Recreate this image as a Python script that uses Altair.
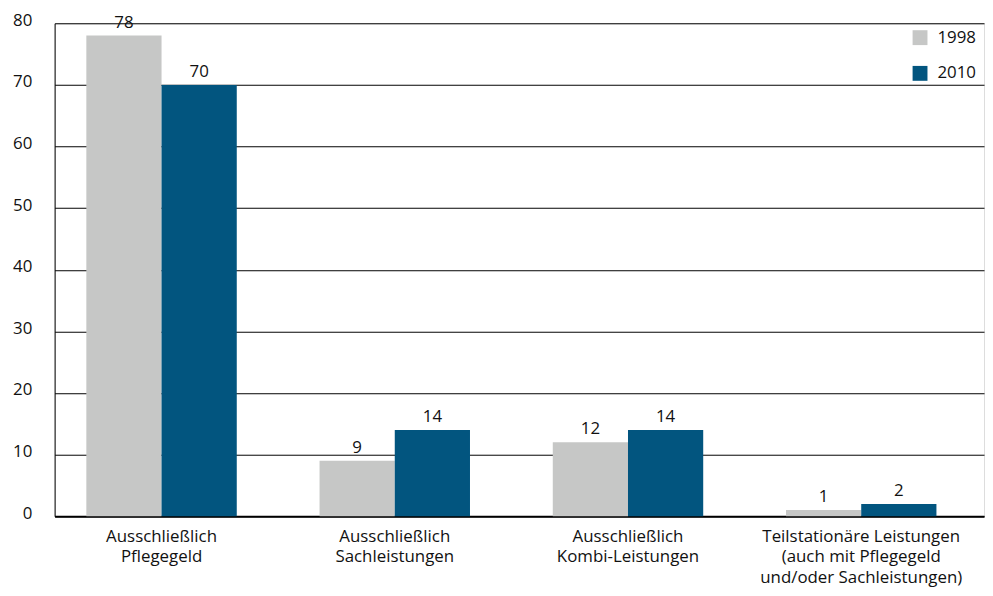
import altair as alt
import pandas as pd

categories = [
    "Ausschließlich|Pflegegeld",
    "Ausschließlich|Sachleistungen",
    "Ausschließlich|Kombi-Leistungen",
    "Teilstationäre Leistungen|(auch mit Pflegegeld|und/oder Sachleistungen)",
]
years = ["1998", "2010"]
values_1998 = [78, 9, 12, 1]
values_2010 = [70, 14, 14, 2]
colors = ["#c6c7c6", "#02557f"]

rows = []
for c, v in zip(categories, values_1998):
    rows.append({"cat": c, "year": "1998", "value": v})
for c, v in zip(categories, values_2010):
    rows.append({"cat": c, "year": "2010", "value": v})
df = pd.DataFrame(rows)

FONT = "Open Sans"
TXT = "#111111"

x = alt.X(
    "cat:N",
    sort=categories,
    scale=alt.Scale(paddingInner=0.355, paddingOuter=0.17, align=0.4),
    axis=alt.Axis(
        title=None,
        labelAngle=0,
        labelExpr="split(datum.label, '|')",
        labelFont=FONT,
        labelFontSize=17,
        labelColor=TXT,
        labelLineHeight=21,
        labelPadding=12,
        labelLimit=400,
        ticks=False,
        domainColor="#000000",
        domainWidth=2,
        grid=False,
    ),
)
y = alt.Y(
    "value:Q",
    scale=alt.Scale(domain=[0, 80], nice=False),
    axis=alt.Axis(
        title=None,
        values=[0, 10, 20, 30, 40, 50, 60, 70, 80],
        labelFont=FONT,
        labelFontSize=17,
        labelColor=TXT,
        labelPadding=23,
        labelOffset=-3,
        ticks=False,
        domainColor="#000000",
        domainWidth=1,
        grid=True,
        gridColor="#000000",
        gridWidth=1,
        gridOpacity=1,
    ),
)

base = alt.Chart(df).encode(
    x=x,
    xOffset=alt.XOffset("year:N", sort=years, scale=alt.Scale(paddingInner=0, paddingOuter=0)),
    y=y,
)

bars = base.mark_bar().encode(
    color=alt.Color(
        "year:N",
        sort=years,
        scale=alt.Scale(domain=years, range=colors),
        legend=alt.Legend(
            title=None,
            orient="none",
            legendX=864,
            legendY=6,
            symbolType="square",
            symbolSize=225,
            symbolStrokeWidth=0,
            symbolOpacity=1,
            labelFont=FONT,
            labelFontSize=17,
            labelColor=TXT,
            labelOffset=9,
            rowPadding=18,
        ),
    )
)

labels = base.mark_text(baseline="bottom", dy=-4, font=FONT, fontSize=17, color=TXT).encode(
    text="value:Q"
)

chart = (
    alt.layer(bars, labels)
    .properties(
        width=937,
        height=497,
        autosize=alt.AutoSizeParams(type="none"),
        padding={"left": 47, "top": 13, "right": 1, "bottom": 75},
    )
    .configure_view(stroke=None)
    .configure(background="#ffffff")
)

chart.save("out.html", embed_options={"renderer": "svg", "actions": False})
